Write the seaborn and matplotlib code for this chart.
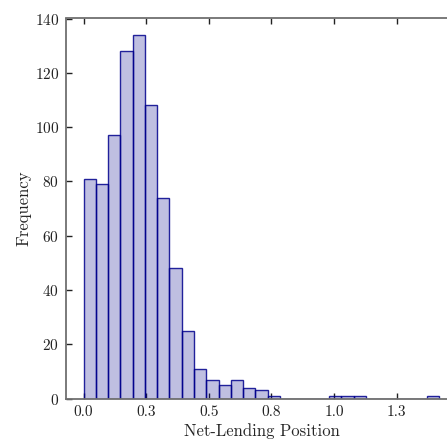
import numpy as np
import pandas as pd
import matplotlib
matplotlib.use("Agg")
import matplotlib.pyplot as plt
import seaborn as sns

# Histogram bin counts (bin width ~0.049, starting at 0)
bin_width = 0.049
counts = [81, 79, 97, 128, 134, 108, 74, 48, 25, 11, 7, 5, 7, 4, 3, 1,
          0, 0, 0, 0, 1, 1, 1, 0, 0, 0, 0, 0, 1]
tick_values = [0.0, 0.25, 0.5, 0.75, 1.0, 1.25]
tick_labels = ["0.0", "0.3", "0.5", "0.8", "1.0", "1.3"]
y_ticks = [0, 20, 40, 60, 80, 100, 120, 140]

n_bins = len(counts)
edges = [i * bin_width for i in range(n_bins + 1)]
centers = [e + bin_width / 2 for e in edges[:-1]]
df = pd.DataFrame({"position": centers, "count": counts})

sns.set_style("white")
plt.rcParams["font.family"] = ["cmr10", "DejaVu Serif"]
plt.rcParams["axes.formatter.use_mathtext"] = True

W, H = 447, 440
fig = plt.figure(figsize=(W / 100, H / 100), dpi=100)
left_px, right_px, top_px, bottom_px = 66, 457, 18.5, 398.5
ax = fig.add_axes([left_px / W, (H - bottom_px) / H,
                   (right_px - left_px) / W, (bottom_px - top_px) / H])

sns.histplot(data=df, x="position", weights="count", bins=edges, ax=ax,
             color="#00008b", alpha=0.25, edgecolor="#00008b", linewidth=1.0)
for p in ax.patches:
    p.set_edgecolor((0.0, 0.0, 0.55, 0.85))

ax.set_xlim(-0.07, 1.491)
ax.set_ylim(0, 140)
ax.set_xticks(tick_values)
ax.set_xticklabels(tick_labels)
ax.set_yticks(y_ticks)
ax.set_xlabel("Net-Lending Position", fontsize=12, labelpad=3)
ax.set_ylabel("Frequency", fontsize=12, labelpad=2)
ax.tick_params(axis="both", direction="in", length=4, width=1, colors="#222222",
               labelsize=11, top=True, bottom=True, left=True, right=False)
ax.tick_params(axis="x", pad=5)
ax.tick_params(axis="y", pad=5)

for side in ["left", "bottom", "top"]:
    ax.spines[side].set_visible(True)
    ax.spines[side].set_color("#707070")
    ax.spines[side].set_linewidth(1.3)
ax.spines["right"].set_visible(False)

fig.savefig("out.png", dpi=100)
